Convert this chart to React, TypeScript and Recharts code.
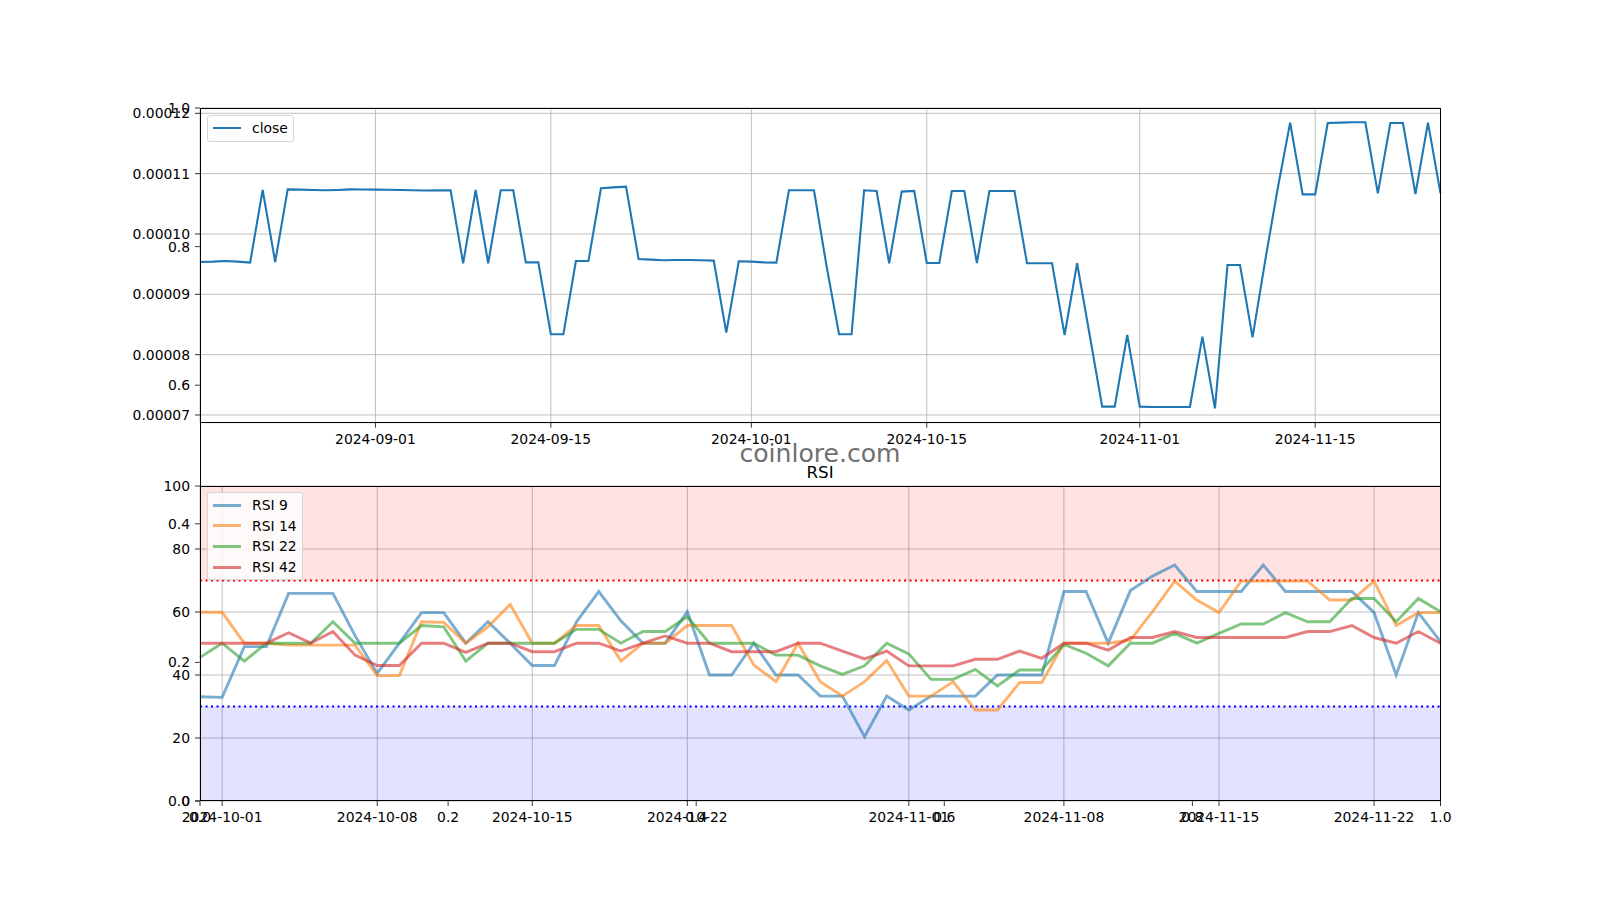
import {
  CartesianGrid,
  Line,
  LineChart,
  ReferenceArea,
  ReferenceLine,
  XAxis,
  YAxis,
} from "recharts";

// price panel (daily closes from 2024-08-18)
const closeStart = "2024-08-18";
const closeValues = [
  0.00009536, 0.00009541, 0.00009552, 0.00009541, 0.00009525, 0.00010729, 0.00009536, 0.0001074, 0.00010735, 0.0001073,
  0.00010724, 0.0001073, 0.0001074, 0.00010738, 0.00010735, 0.00010733, 0.0001073, 0.00010724, 0.0001072, 0.00010722,
  0.00010724, 0.00009514, 0.00010729, 0.00009514, 0.00010724, 0.00010724, 0.0000953, 0.0000953, 0.00008337, 0.00008337,
  0.00009552, 0.00009552, 0.00010757, 0.00010773, 0.00010785, 0.00009586, 0.00009575, 0.00009564, 0.00009569, 0.00009569,
  0.00009564, 0.00009558, 0.00008365, 0.00009547, 0.00009541, 0.0000953, 0.00009525, 0.00010724, 0.00010724, 0.00010724,
  0.0000947, 0.00008337, 0.00008337, 0.00010724, 0.00010713, 0.00009514, 0.00010702, 0.00010713, 0.00009519, 0.00009519,
  0.00010713, 0.00010713, 0.00009519, 0.00010713, 0.00010713, 0.00010713, 0.00009514, 0.00009514, 0.00009514, 0.00008326,
  0.00009514, 0.00008326, 0.00007138, 0.00007138, 0.00008326, 0.00007138, 0.00007133, 0.00007133, 0.00007133, 0.00007133,
  0.00008298, 0.0000711, 0.00009486, 0.00009486, 0.00008287, 0.00009547, 0.00010746, 0.00011845, 0.00010657, 0.00010657,
  0.0001184, 0.00011845, 0.00011851, 0.00011851, 0.00010674, 0.0001184, 0.0001184, 0.00010663, 0.00011845, 0.00010674,
];
const closeTickLabels = ["2024-09-01", "2024-09-15", "2024-10-01", "2024-10-15", "2024-11-01", "2024-11-15"];
const closeYTicks = [0.00007, 0.00008, 0.00009, 0.0001, 0.00011, 0.00012];

// RSI panel (daily from 2024-09-30)
const rsiStart = "2024-09-30";
const rsi9 = [
  33.1, 32.9, 49.0, 49.0, 65.9, 65.9, 65.9, 52.5, 40.5, 50.1,
  59.8, 59.8, 50.1, 56.9, 50.1, 43.0, 43.0, 56.9, 66.5, 57.2,
  50.1, 50.1, 60.1, 40.0, 40.0, 50.1, 40.0, 40.0, 33.3, 33.3,
  20.4, 33.3, 28.9, 33.3, 33.3, 33.3, 40.0, 40.0, 40.0, 66.5,
  66.5, 50.1, 66.8, 71.4, 74.9, 66.5, 66.5, 66.5, 74.9, 66.5,
  66.5, 66.5, 66.5, 59.8, 40.0, 59.8, 50.6,
];
const rsi14 = [
  59.9, 59.9, 50.1, 50.1, 49.5, 49.5, 49.5, 49.5, 39.8, 39.8,
  56.9, 56.7, 50.1, 55.3, 62.4, 50.1, 50.1, 55.7, 55.7, 44.4,
  50.1, 50.1, 55.7, 55.7, 55.7, 43.2, 37.9, 50.1, 37.9, 33.3,
  37.9, 44.6, 33.3, 33.3, 37.9, 28.9, 28.9, 37.6, 37.6, 50.1,
  50.1, 50.1, 51.1, 60.1, 69.8, 63.8, 59.8, 69.8, 69.8, 69.8,
  69.8, 63.8, 63.8, 69.8, 55.7, 59.8, 59.8,
];
const rsi22 = [
  45.6, 50.1, 44.4, 50.1, 50.1, 50.1, 56.9, 50.1, 50.1, 50.1,
  55.7, 55.3, 44.4, 50.1, 50.1, 50.1, 50.1, 54.5, 54.5, 50.1,
  53.8, 53.8, 58.5, 50.1, 50.1, 50.1, 46.3, 46.3, 42.9, 40.2,
  42.9, 50.1, 46.7, 38.6, 38.6, 41.8, 36.5, 41.6, 41.6, 49.7,
  46.9, 42.9, 50.1, 50.1, 53.2, 50.1, 53.2, 56.2, 56.2, 59.8,
  56.9, 56.9, 64.3, 64.3, 56.9, 64.3, 60.1,
];
const rsi42 = [
  50.1, 50.1, 50.1, 50.1, 53.4, 50.1, 53.8, 46.3, 43.0, 43.0,
  50.1, 50.1, 47.2, 50.1, 50.1, 47.4, 47.4, 50.1, 50.1, 47.6,
  50.1, 52.4, 50.1, 50.1, 47.4, 47.4, 47.4, 50.1, 50.1, 47.6,
  45.1, 47.6, 42.9, 42.9, 42.9, 45.0, 45.0, 47.6, 45.3, 50.1,
  50.1, 47.9, 51.9, 51.9, 53.8, 51.9, 51.9, 51.9, 51.9, 51.9,
  53.8, 53.8, 55.7, 51.9, 50.1, 53.8, 50.1,
];
const rsiTickLabels = ["2024-10-01", "2024-10-08", "2024-10-15", "2024-10-22", "2024-11-01", "2024-11-08", "2024-11-15", "2024-11-22"];
const rsiYTicks = [0, 20, 40, 60, 80, 100];
const rsiNames = ["RSI 9", "RSI 14", "RSI 22", "RSI 42"];
const rsiColors = ["#1f77b4", "#ff7f0e", "#2ca02c", "#d62728"];

// the empty 0..1 figure axes that sits behind both panels
const frameTicks = [0, 0.2, 0.4, 0.6, 0.8, 1];

function dayLabels(start: string, count: number) {
  const base = Date.parse(`${start}T00:00:00Z`);
  return Array.from({ length: count }, (_, i) =>
    new Date(base + i * 86400000).toISOString().slice(0, 10)
  );
}

const closeDates = dayLabels(closeStart, closeValues.length);
const rsiDates = dayLabels(rsiStart, rsi9.length);

const closeData = closeValues.map((close, i) => ({ i, date: closeDates[i], close }));
const rsiSeries = [rsi9, rsi14, rsi22, rsi42];
const rsiData = rsi9.map((_, i) => {
  const row: Record<string, number | string> = { i, date: rsiDates[i] };
  rsiNames.forEach((name, k) => (row[name] = rsiSeries[k][i]));
  return row;
});
const frameData = frameTicks.map((t) => ({ x: t, y: t }));

const W = 1600;
const H = 900;
const PLOT_LEFT = 200;
const PLOT_RIGHT = 1440.5;
const TOP_Y0 = 108;
const TOP_Y1 = 422.7;
const BOT_Y0 = 486;
const BOT_Y1 = 801;

const tickStyle = { fontSize: 13.9, fill: "#000" };
const tickLine = { stroke: "#000", strokeWidth: 0.8 };
const GRID = "#b0b0b0";

function Frame({ top, bottom }: { top: number; bottom: number }) {
  return (
    <div
      style={{
        position: "absolute",
        left: PLOT_LEFT,
        top,
        width: PLOT_RIGHT - PLOT_LEFT,
        height: bottom - top,
        border: "1px solid #000",
        boxSizing: "border-box",
        pointerEvents: "none",
      }}
    />
  );
}

function LegendBox({
  left,
  top,
  items,
  lineWidth,
  opacity,
}: {
  left: number;
  top: number;
  items: { name: string; color: string }[];
  lineWidth: number;
  opacity: number;
}) {
  return (
    <div
      style={{
        position: "absolute",
        left,
        top,
        padding: "2px 5px 2px 5px",
        background: "rgba(255,255,255,0.8)",
        border: "1px solid #d6d6d6",
        borderRadius: 3,
        fontSize: 13.9,
        lineHeight: "20.6px",
      }}
    >
      {items.map((it) => (
        <div key={it.name} style={{ display: "flex", alignItems: "center", height: 20.6 }}>
          <div
            style={{
              width: 28,
              height: lineWidth,
              background: it.color,
              opacity,
              marginRight: 11,
            }}
          />
          <span>{it.name}</span>
        </div>
      ))}
    </div>
  );
}

export default function App() {
  const layer = { position: "absolute" as const, left: 0, top: 0 };
  return (
    <div
      style={{
        position: "relative",
        width: W,
        height: H,
        background: "#fff",
        fontFamily: "'DejaVu Sans', sans-serif",
        overflow: "hidden",
      }}
    >
      <style>{"body{margin:0}"}</style>

      {/* background figure axes with 0..1 ticks */}
      <div style={layer}>
        <LineChart
          width={W}
          height={H}
          data={frameData}
          margin={{ top: TOP_Y0, right: W - PLOT_RIGHT, bottom: H - BOT_Y1 - 30, left: 0 }}
        >
          <XAxis
            dataKey="x"
            type="number"
            domain={[0, 1]}
            ticks={frameTicks}
            interval={0}
            height={30}
            axisLine={false}
            tickLine={tickLine}
            tickSize={5}
            tickMargin={6}
            tick={tickStyle}
            tickFormatter={(v: number) => v.toFixed(1)}
          />
          <YAxis
            type="number"
            domain={[0, 1]}
            ticks={frameTicks}
            interval={0}
            width={PLOT_LEFT}
            axisLine={false}
            tickLine={tickLine}
            tickSize={5}
            tickMargin={5}
            tick={tickStyle}
            tickFormatter={(v: number) => v.toFixed(1)}
          />
          <Line dataKey="y" stroke="none" dot={false} isAnimationActive={false} />
        </LineChart>
      </div>

      {/* price panel */}
      <div style={layer}>
        <LineChart
          width={W}
          height={H}
          data={closeData}
          margin={{ top: TOP_Y0, right: W - PLOT_RIGHT, bottom: H - TOP_Y1 - 30, left: 0 }}
        >
          <CartesianGrid stroke={GRID} strokeWidth={0.8} />
          <XAxis
            dataKey="i"
            type="number"
            domain={[0, closeValues.length - 1]}
            ticks={closeTickLabels.map((d) => closeDates.indexOf(d))}
            interval={0}
            height={30}
            axisLine={false}
            tickLine={tickLine}
            tickSize={5}
            tickMargin={6}
            tick={tickStyle}
            tickFormatter={(i: number) => closeDates[i]}
          />
          <YAxis
            type="number"
            domain={[0.00006872, 0.00012088]}
            ticks={closeYTicks}
            interval={0}
            allowDataOverflow
            width={PLOT_LEFT}
            axisLine={false}
            tickLine={tickLine}
            tickSize={5}
            tickMargin={5}
            tick={tickStyle}
            tickFormatter={(v: number) => v.toFixed(5)}
          />
          <Line
            dataKey="close"
            type="linear"
            stroke="#1f77b4"
            strokeWidth={2.1}
            dot={false}
            isAnimationActive={false}
          />
        </LineChart>
      </div>

      {/* RSI panel */}
      <div style={layer}>
        <LineChart
          width={W}
          height={H}
          data={rsiData}
          margin={{ top: BOT_Y0, right: W - PLOT_RIGHT, bottom: H - BOT_Y1 - 30, left: 0 }}
        >
          <ReferenceArea y1={70} y2={100} fill="red" fillOpacity={0.11} stroke="none" ifOverflow="hidden" />
          <ReferenceArea y1={0} y2={30} fill="blue" fillOpacity={0.11} stroke="none" ifOverflow="hidden" />
          <CartesianGrid stroke={GRID} strokeWidth={0.8} />
          <XAxis
            dataKey="i"
            type="number"
            domain={[0, rsi9.length - 1]}
            ticks={rsiTickLabels.map((d) => rsiDates.indexOf(d))}
            interval={0}
            height={30}
            axisLine={false}
            tickLine={tickLine}
            tickSize={5}
            tickMargin={6}
            tick={tickStyle}
            tickFormatter={(i: number) => rsiDates[i]}
          />
          <YAxis
            type="number"
            domain={[0, 100]}
            ticks={rsiYTicks}
            interval={0}
            width={PLOT_LEFT}
            axisLine={false}
            tickLine={tickLine}
            tickSize={5}
            tickMargin={5}
            tick={tickStyle}
          />
          <ReferenceLine y={70} stroke="red" strokeWidth={2} strokeDasharray="2.1 3.4" />
          <ReferenceLine y={30} stroke="blue" strokeWidth={2} strokeDasharray="2.1 3.4" />
          {rsiNames.map((name, k) => (
            <Line
              key={name}
              dataKey={name}
              type="linear"
              stroke={rsiColors[k]}
              strokeOpacity={0.6}
              strokeWidth={2.9}
              dot={false}
              isAnimationActive={false}
            />
          ))}
        </LineChart>
      </div>

      <Frame top={TOP_Y0} bottom={BOT_Y1} />
      <Frame top={TOP_Y0} bottom={TOP_Y1} />
      <Frame top={BOT_Y0} bottom={BOT_Y1} />

      <LegendBox
        left={207}
        top={115}
        items={[{ name: "close", color: "#1f77b4" }]}
        lineWidth={2.1}
        opacity={1}
      />
      <LegendBox
        left={207}
        top={492}
        items={rsiNames.map((name, k) => ({ name, color: rsiColors[k] }))}
        lineWidth={3}
        opacity={0.6}
      />

      <div
        style={{
          position: "absolute",
          left: 0,
          width: 1640,
          top: 439,
          textAlign: "center",
          fontSize: 25.1,
          lineHeight: "30px",
          color: "#6f6f6f",
        }}
      >
        coinlore.com
      </div>
      <div
        style={{
          position: "absolute",
          left: 0,
          width: 1640,
          top: 462,
          textAlign: "center",
          fontSize: 16.7,
          lineHeight: "20px",
          color: "#000",
        }}
      >
        RSI
      </div>
    </div>
  );
}
